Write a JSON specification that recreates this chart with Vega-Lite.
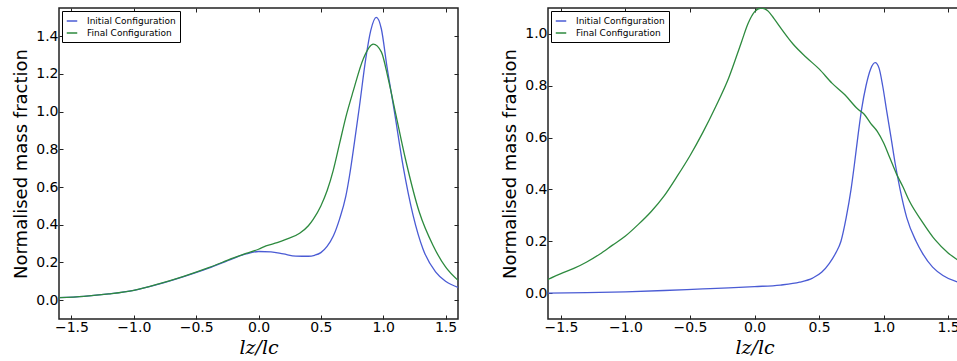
{
  "$schema": "https://vega.github.io/schema/vega-lite/v6.json",
  "padding": {"left": 11, "top": 6, "right": 0, "bottom": 0},
  "background": "white",
  "datasets": {
    "left": [
      {"x": -1.6, "y": 0.013, "series": "Initial Configuration"},
      {"x": -1.4, "y": 0.02, "series": "Initial Configuration"},
      {"x": -1.2, "y": 0.033, "series": "Initial Configuration"},
      {"x": -1.0, "y": 0.052, "series": "Initial Configuration"},
      {"x": -0.8, "y": 0.085, "series": "Initial Configuration"},
      {"x": -0.6, "y": 0.125, "series": "Initial Configuration"},
      {"x": -0.4, "y": 0.17, "series": "Initial Configuration"},
      {"x": -0.2, "y": 0.222, "series": "Initial Configuration"},
      {"x": -0.1, "y": 0.245, "series": "Initial Configuration"},
      {"x": 0.0, "y": 0.258, "series": "Initial Configuration"},
      {"x": 0.1, "y": 0.256, "series": "Initial Configuration"},
      {"x": 0.2, "y": 0.245, "series": "Initial Configuration"},
      {"x": 0.3, "y": 0.234, "series": "Initial Configuration"},
      {"x": 0.4, "y": 0.233, "series": "Initial Configuration"},
      {"x": 0.45, "y": 0.238, "series": "Initial Configuration"},
      {"x": 0.5, "y": 0.252, "series": "Initial Configuration"},
      {"x": 0.55, "y": 0.285, "series": "Initial Configuration"},
      {"x": 0.6, "y": 0.34, "series": "Initial Configuration"},
      {"x": 0.65, "y": 0.43, "series": "Initial Configuration"},
      {"x": 0.7, "y": 0.55, "series": "Initial Configuration"},
      {"x": 0.73, "y": 0.66, "series": "Initial Configuration"},
      {"x": 0.77, "y": 0.84, "series": "Initial Configuration"},
      {"x": 0.81, "y": 1.03, "series": "Initial Configuration"},
      {"x": 0.86, "y": 1.28, "series": "Initial Configuration"},
      {"x": 0.9, "y": 1.43, "series": "Initial Configuration"},
      {"x": 0.945, "y": 1.5, "series": "Initial Configuration"},
      {"x": 0.985, "y": 1.44, "series": "Initial Configuration"},
      {"x": 1.03, "y": 1.24, "series": "Initial Configuration"},
      {"x": 1.09, "y": 1.0, "series": "Initial Configuration"},
      {"x": 1.16, "y": 0.71, "series": "Initial Configuration"},
      {"x": 1.24, "y": 0.45, "series": "Initial Configuration"},
      {"x": 1.32, "y": 0.27, "series": "Initial Configuration"},
      {"x": 1.42, "y": 0.15, "series": "Initial Configuration"},
      {"x": 1.5, "y": 0.1, "series": "Initial Configuration"},
      {"x": 1.6, "y": 0.068, "series": "Initial Configuration"},
      {"x": -1.6, "y": 0.013, "series": "Final Configuration"},
      {"x": -1.4, "y": 0.02, "series": "Final Configuration"},
      {"x": -1.2, "y": 0.033, "series": "Final Configuration"},
      {"x": -1.0, "y": 0.052, "series": "Final Configuration"},
      {"x": -0.8, "y": 0.086, "series": "Final Configuration"},
      {"x": -0.6, "y": 0.126, "series": "Final Configuration"},
      {"x": -0.4, "y": 0.172, "series": "Final Configuration"},
      {"x": -0.2, "y": 0.224, "series": "Final Configuration"},
      {"x": -0.1, "y": 0.248, "series": "Final Configuration"},
      {"x": 0.0, "y": 0.27, "series": "Final Configuration"},
      {"x": 0.06, "y": 0.288, "series": "Final Configuration"},
      {"x": 0.15, "y": 0.305, "series": "Final Configuration"},
      {"x": 0.22, "y": 0.322, "series": "Final Configuration"},
      {"x": 0.33, "y": 0.355, "series": "Final Configuration"},
      {"x": 0.4, "y": 0.395, "series": "Final Configuration"},
      {"x": 0.44, "y": 0.43, "series": "Final Configuration"},
      {"x": 0.5, "y": 0.5, "series": "Final Configuration"},
      {"x": 0.55, "y": 0.58, "series": "Final Configuration"},
      {"x": 0.6, "y": 0.69, "series": "Final Configuration"},
      {"x": 0.65, "y": 0.83, "series": "Final Configuration"},
      {"x": 0.7, "y": 0.97, "series": "Final Configuration"},
      {"x": 0.76, "y": 1.11, "series": "Final Configuration"},
      {"x": 0.84, "y": 1.28, "series": "Final Configuration"},
      {"x": 0.92, "y": 1.358, "series": "Final Configuration"},
      {"x": 0.985, "y": 1.317, "series": "Final Configuration"},
      {"x": 1.04, "y": 1.175, "series": "Final Configuration"},
      {"x": 1.1, "y": 0.99, "series": "Final Configuration"},
      {"x": 1.18, "y": 0.745, "series": "Final Configuration"},
      {"x": 1.29, "y": 0.466, "series": "Final Configuration"},
      {"x": 1.4, "y": 0.29, "series": "Final Configuration"},
      {"x": 1.5, "y": 0.176, "series": "Final Configuration"},
      {"x": 1.6, "y": 0.105, "series": "Final Configuration"}
    ],
    "right": [
      {"x": -1.6, "y": 0.0, "series": "Initial Configuration"},
      {"x": -1.3, "y": 0.002, "series": "Initial Configuration"},
      {"x": -1.0, "y": 0.005, "series": "Initial Configuration"},
      {"x": -0.7, "y": 0.01, "series": "Initial Configuration"},
      {"x": -0.4, "y": 0.016, "series": "Initial Configuration"},
      {"x": -0.2, "y": 0.02, "series": "Initial Configuration"},
      {"x": 0.0, "y": 0.025, "series": "Initial Configuration"},
      {"x": 0.2, "y": 0.031, "series": "Initial Configuration"},
      {"x": 0.35, "y": 0.042, "series": "Initial Configuration"},
      {"x": 0.45, "y": 0.058, "series": "Initial Configuration"},
      {"x": 0.52, "y": 0.08, "series": "Initial Configuration"},
      {"x": 0.58, "y": 0.115, "series": "Initial Configuration"},
      {"x": 0.63, "y": 0.155, "series": "Initial Configuration"},
      {"x": 0.67, "y": 0.2, "series": "Initial Configuration"},
      {"x": 0.71, "y": 0.29, "series": "Initial Configuration"},
      {"x": 0.748, "y": 0.4, "series": "Initial Configuration"},
      {"x": 0.775, "y": 0.5, "series": "Initial Configuration"},
      {"x": 0.8, "y": 0.6, "series": "Initial Configuration"},
      {"x": 0.83, "y": 0.71, "series": "Initial Configuration"},
      {"x": 0.864, "y": 0.8, "series": "Initial Configuration"},
      {"x": 0.9, "y": 0.865, "series": "Initial Configuration"},
      {"x": 0.935, "y": 0.889, "series": "Initial Configuration"},
      {"x": 0.965, "y": 0.868, "series": "Initial Configuration"},
      {"x": 0.993, "y": 0.8, "series": "Initial Configuration"},
      {"x": 1.025, "y": 0.7, "series": "Initial Configuration"},
      {"x": 1.058, "y": 0.6, "series": "Initial Configuration"},
      {"x": 1.09, "y": 0.5, "series": "Initial Configuration"},
      {"x": 1.128, "y": 0.4, "series": "Initial Configuration"},
      {"x": 1.18, "y": 0.29, "series": "Initial Configuration"},
      {"x": 1.252, "y": 0.2, "series": "Initial Configuration"},
      {"x": 1.3, "y": 0.155, "series": "Initial Configuration"},
      {"x": 1.38, "y": 0.1, "series": "Initial Configuration"},
      {"x": 1.46, "y": 0.068, "series": "Initial Configuration"},
      {"x": 1.56, "y": 0.045, "series": "Initial Configuration"},
      {"x": 1.6, "y": 0.04, "series": "Initial Configuration"},
      {"x": -1.6, "y": 0.053, "series": "Final Configuration"},
      {"x": -1.5, "y": 0.075, "series": "Final Configuration"},
      {"x": -1.4, "y": 0.095, "series": "Final Configuration"},
      {"x": -1.3, "y": 0.12, "series": "Final Configuration"},
      {"x": -1.2, "y": 0.15, "series": "Final Configuration"},
      {"x": -1.1, "y": 0.185, "series": "Final Configuration"},
      {"x": -1.0, "y": 0.22, "series": "Final Configuration"},
      {"x": -0.9, "y": 0.265, "series": "Final Configuration"},
      {"x": -0.8, "y": 0.315, "series": "Final Configuration"},
      {"x": -0.7, "y": 0.375, "series": "Final Configuration"},
      {"x": -0.6, "y": 0.45, "series": "Final Configuration"},
      {"x": -0.5, "y": 0.53, "series": "Final Configuration"},
      {"x": -0.4, "y": 0.62, "series": "Final Configuration"},
      {"x": -0.3, "y": 0.72, "series": "Final Configuration"},
      {"x": -0.2, "y": 0.83, "series": "Final Configuration"},
      {"x": -0.1, "y": 0.97, "series": "Final Configuration"},
      {"x": -0.05, "y": 1.04, "series": "Final Configuration"},
      {"x": 0.0, "y": 1.085, "series": "Final Configuration"},
      {"x": 0.05, "y": 1.1, "series": "Final Configuration"},
      {"x": 0.1, "y": 1.09, "series": "Final Configuration"},
      {"x": 0.15, "y": 1.06, "series": "Final Configuration"},
      {"x": 0.2, "y": 1.025, "series": "Final Configuration"},
      {"x": 0.3, "y": 0.96, "series": "Final Configuration"},
      {"x": 0.4, "y": 0.91, "series": "Final Configuration"},
      {"x": 0.5, "y": 0.865, "series": "Final Configuration"},
      {"x": 0.6, "y": 0.81, "series": "Final Configuration"},
      {"x": 0.7, "y": 0.765, "series": "Final Configuration"},
      {"x": 0.8, "y": 0.71, "series": "Final Configuration"},
      {"x": 0.85, "y": 0.69, "series": "Final Configuration"},
      {"x": 0.9, "y": 0.655, "series": "Final Configuration"},
      {"x": 0.95, "y": 0.625, "series": "Final Configuration"},
      {"x": 1.0, "y": 0.58, "series": "Final Configuration"},
      {"x": 1.05, "y": 0.52, "series": "Final Configuration"},
      {"x": 1.1, "y": 0.46, "series": "Final Configuration"},
      {"x": 1.15, "y": 0.41, "series": "Final Configuration"},
      {"x": 1.2, "y": 0.355, "series": "Final Configuration"},
      {"x": 1.3, "y": 0.275, "series": "Final Configuration"},
      {"x": 1.4, "y": 0.205, "series": "Final Configuration"},
      {"x": 1.5, "y": 0.155, "series": "Final Configuration"},
      {"x": 1.6, "y": 0.12, "series": "Final Configuration"}
    ]
  },
  "spacing": 40,
  "resolve": {"scale": {"x": "independent", "y": "independent", "color": "independent"}, "legend": {"color": "independent"}},
  "hconcat": [
    {
      "width": 399,
      "height": 311,
      "data": {"name": "left"},
      "layer": [
        {
          "mark": {"type": "line", "strokeWidth": 1.3, "clip": true, "interpolate": "monotone"},
          "encoding": {
            "x": {"field": "x", "type": "quantitative", "scale": {"domain": [-1.6, 1.6], "nice": false, "zero": false},
                  "axis": {"orient": "bottom", "values": [-1.5, -1.0, -0.5, 0.0, 0.5, 1.0, 1.5], "format": ".1f", "title": "lz/lc"}},
            "y": {"field": "y", "type": "quantitative", "scale": {"domain": [-0.1, 1.55], "nice": false, "zero": false},
                  "axis": {"orient": "left", "values": [0.0, 0.2, 0.4, 0.6, 0.8, 1.0, 1.2, 1.4], "format": ".1f", "title": "Normalised mass fraction"}},
            "color": {"field": "series", "type": "nominal",
                      "scale": {"domain": ["Initial Configuration", "Final Configuration"], "range": ["#4a5bd4", "#2d8a3e"]},
                      "legend": {"orient": "top-left", "title": null}}
          }
        },
        {
          "mark": {"type": "line", "strokeOpacity": 0},
          "encoding": {
            "x": {"field": "x", "type": "quantitative", "scale": {"domain": [-1.6, 1.6], "nice": false, "zero": false},
                  "axis": {"orient": "top", "values": [-1.5, -1.0, -0.5, 0.0, 0.5, 1.0, 1.5], "labels": false, "title": null, "maxExtent": 0, "minExtent": 0}},
            "y": {"field": "y", "type": "quantitative", "scale": {"domain": [-0.1, 1.55], "nice": false, "zero": false},
                  "axis": {"orient": "right", "values": [0.0, 0.2, 0.4, 0.6, 0.8, 1.0, 1.2, 1.4], "labels": false, "title": null, "maxExtent": 0, "minExtent": 0}},
            "detail": {"field": "series"}
          }
        }
      ]
    },
    {
      "width": 413,
      "height": 311,
      "data": {"name": "right"},
      "layer": [
        {
          "mark": {"type": "line", "strokeWidth": 1.3, "clip": true, "interpolate": "monotone"},
          "encoding": {
            "x": {"field": "x", "type": "quantitative", "scale": {"domain": [-1.6, 1.6], "nice": false, "zero": false},
                  "axis": {"orient": "bottom", "values": [-1.5, -1.0, -0.5, 0.0, 0.5, 1.0, 1.5], "format": ".1f", "title": "lz/lc"}},
            "y": {"field": "y", "type": "quantitative", "scale": {"domain": [-0.1, 1.1], "nice": false, "zero": false},
                  "axis": {"orient": "left", "values": [0.0, 0.2, 0.4, 0.6, 0.8, 1.0], "format": ".1f", "title": "Normalised mass fraction"}},
            "color": {"field": "series", "type": "nominal",
                      "scale": {"domain": ["Initial Configuration", "Final Configuration"], "range": ["#4a5bd4", "#2d8a3e"]},
                      "legend": {"orient": "top-left", "title": null}}
          }
        },
        {
          "mark": {"type": "line", "strokeOpacity": 0},
          "encoding": {
            "x": {"field": "x", "type": "quantitative", "scale": {"domain": [-1.6, 1.6], "nice": false, "zero": false},
                  "axis": {"orient": "top", "values": [-1.5, -1.0, -0.5, 0.0, 0.5, 1.0, 1.5], "labels": false, "title": null, "maxExtent": 0, "minExtent": 0}},
            "y": {"field": "y", "type": "quantitative", "scale": {"domain": [-0.1, 1.1], "nice": false, "zero": false},
                  "axis": {"orient": "right", "values": [0.0, 0.2, 0.4, 0.6, 0.8, 1.0], "labels": false, "title": null, "maxExtent": 0, "minExtent": 0}},
            "detail": {"field": "series"}
          }
        }
      ]
    }
  ],
  "config": {
    "view": {"stroke": "#222", "strokeWidth": 1.5},
    "axis": {
      "domain": false, "grid": false, "tickSize": -4, "tickColor": "#222", "tickWidth": 1,
      "labelFont": "DejaVu Sans", "labelFontSize": 14, "labelColor": "#000", "labelPadding": 5,
      "titleFont": "DejaVu Sans", "titleFontSize": 18, "titleFontWeight": "normal", "titleColor": "#000"
    },
    "axisX": {"titleFont": "DejaVu Serif", "titleFontStyle": "italic", "titleFontSize": 19, "titlePadding": 4},
    "axisY": {"titlePadding": 5},
    "legend": {
      "offset": 3, "padding": 4, "strokeColor": "#000", "fillColor": "#fff", "cornerRadius": 0,
      "labelFont": "DejaVu Sans", "labelFontSize": 9, "labelColor": "#000", "labelFontWeight": "normal",
      "symbolType": "stroke", "symbolStrokeWidth": 1.5, "symbolSize": 110, "labelOffset": 9, "rowPadding": 1
    }
  }
}
